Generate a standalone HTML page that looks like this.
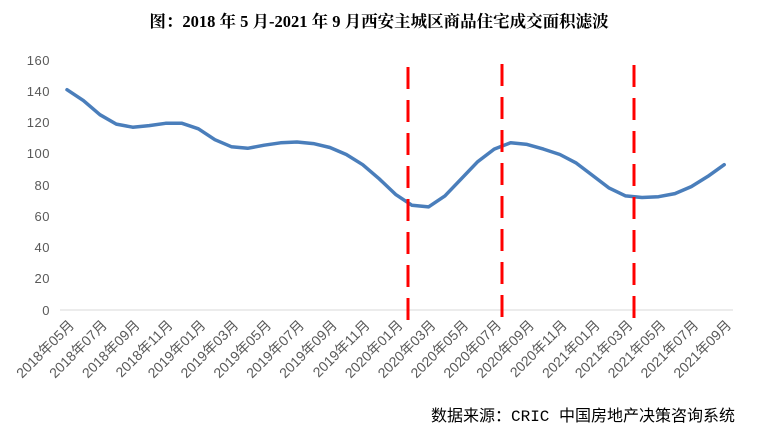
<!DOCTYPE html>
<html><head><meta charset="utf-8"><style>
body{margin:0;background:#fff;}
svg text{font-family:"Liberation Sans","Noto Sans CJK SC",sans-serif;}
</style></head><body>
<svg width="761" height="431" viewBox="0 0 761 431" xmlns="http://www.w3.org/2000/svg">
<text x="379" y="27" text-anchor="middle" font-size="16.5" font-weight="bold" style="font-family:'Liberation Serif','Noto Serif CJK SC',serif" fill="#000">图：2018 年 5 月-2021 年 9 月西安主城区商品住宅成交面积滤波</text>
<g font-size="13" fill="#595959" text-anchor="end" letter-spacing="0.5">
<text x="50" y="65">160</text><text x="50" y="96">140</text><text x="50" y="127">120</text><text x="50" y="158">100</text>
<text x="50" y="190">80</text><text x="50" y="221">60</text><text x="50" y="252">40</text><text x="50" y="283">20</text><text x="50" y="315">0</text>
</g>
<line x1="60" y1="310" x2="733" y2="310" stroke="#d9d9d9" stroke-width="1"/>
<polyline fill="none" stroke="#4a7ebb" stroke-width="3.5" stroke-linejoin="round" stroke-linecap="round" id="pl" points=""/>
<g stroke="#ff0000" stroke-width="3" stroke-dasharray="22,11">
<line x1="408" y1="67" x2="408" y2="322"/>
<line x1="502" y1="64" x2="502" y2="320"/>
<line x1="634" y1="65" x2="634" y2="320"/>
</g>
<g id="lbl" font-size="14" fill="#595959" text-anchor="end"></g>
<text x="735" y="421" text-anchor="end" font-size="16" fill="#000" style="font-family:'Liberation Mono','Noto Sans CJK SC',monospace">数据来源：CRIC 中国房地产决策咨询系统</text>
</svg>
<script>
var v=[141,134,125,119,117,118,119.5,119.5,116,109,104.5,103.5,105.5,107,107.5,106.5,104,99.5,93,84,74,67,66,73,84,95,103,107,106,103,99.5,94,86,78,73,72,72.5,74.5,79,85.5,93];
var pts=v.map(function(d,i){return (67+i*16.43).toFixed(1)+","+(310-d*1.5625).toFixed(1)}).join(" ");
document.getElementById("pl").setAttribute("points",pts);
var g=document.getElementById("lbl"),s="";
for(var i=0;i<41;i+=2){var m=5+i,y=2018+Math.floor((m-1)/12),mm=((m-1)%12)+1;var x=67+i*16.43+8,yy=326;
s+='<text transform="translate('+x.toFixed(1)+','+yy+') rotate(-45)">'+y+'年'+(mm<10?'0':'')+mm+'月</text>';}
g.innerHTML=s;
</script>
</body></html>
